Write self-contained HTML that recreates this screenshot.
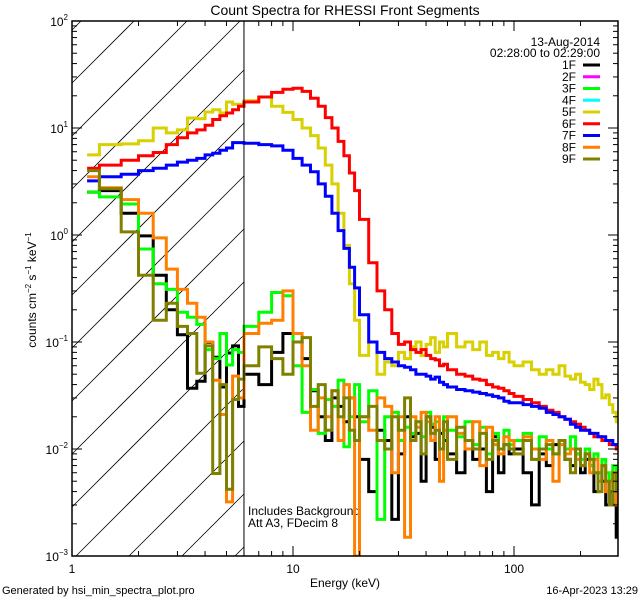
<!DOCTYPE html>
<html><head><meta charset="utf-8"><style>
html,body{margin:0;padding:0;background:#fff;width:640px;height:600px;overflow:hidden;}
svg{display:block;overflow:hidden;font-family:"Liberation Sans",sans-serif;}
</style></head><body>
<svg id="chart" width="640" height="600" viewBox="0 0 640 600" xmlns="http://www.w3.org/2000/svg">
<rect width="640" height="600" fill="#fff"/>
<text x="345" y="15" font-size="14" text-anchor="middle">Count Spectra for RHESSI Front Segments</text>
<text x="345" y="587" font-size="12" text-anchor="middle">Energy (keV)</text>
<text transform="translate(36,290) rotate(-90)" font-size="12" text-anchor="middle">counts cm<tspan dy="-5" font-size="8">−2</tspan><tspan dy="5"> s</tspan><tspan dy="-5" font-size="8">−1</tspan><tspan dy="5"> keV</tspan><tspan dy="-5" font-size="8">−1</tspan></text>
<text x="2" y="594" font-size="11">Generated by hsi_min_spectra_plot.pro</text>
<text x="638" y="594" font-size="11" text-anchor="end">16-Apr-2023 13:29</text>
<text x="248" y="515" font-size="12">Includes Background</text>
<text x="248" y="527" font-size="12">Att A3, FDecim 8</text>
<text x="600" y="46" font-size="12" text-anchor="end">13-Aug-2014</text>
<text x="600" y="57" font-size="12" text-anchor="end">02:28:00 to 02:29:00</text>
<g id="hatch"></g>
<g id="series"></g>
<g id="axes"></g>
<g id="legend"></g>
</svg>
<script>
const edges = [1.17,1.33,1.67,2,2.33,2.67,3,3.33,3.67,4,4.33,4.67,5,5.33,5.67,6,
7,8,9,10,11,12,13,14,15,16,17,18,19,20,22,24,26,28,30,32,34,36,38,40,42,44,46,48,50,
55,60,65,70,75,80,85,90,95,100,110,120,130,140,150,160,170,180,190,200,210,220,230,240,250,260,270,280,290,300];
const seriesNames = ["1F","3F","5F","6F","7F","8F","9F"];
const legendNames = ["1F","2F","3F","4F","5F","6F","7F","8F","9F"];
const legendColors = ["#000000","#ff00ff","#00ff00","#00ffff","#d8d000","#ff0000","#0000ff","#ff8000","#808000"];
const s1F = [2.52,2.6,1.6,0.98,0.42,0.2,0.117,0.037,0.043,0.099,0.072,0.038,0.079,0.092,0.025,
0.05,0.04,0.08,0.12,0.1,0.07,0.035,0.02,0.012,0.03,0.025,0.018,0.03,0.02,
0.008,0.004,0.015,0.012,0.0022,0.009,0.02,0.013,0.014,0.005,0.02,0.016,0.008,0.014,0.012,
0.009,0.006,0.012,0.008,0.01,0.004,0.013,0.006,0.011,0.009,
0.01,0.006,0.003,0.009,0.007,0.011,0.012,0.008,0.007,0.009,0.006,0.008,0.007,0.004,0.006,0.005,0.003,0.004,0.003,0.0015];
const s3F = [2.52,2.27,1.95,0.74,0.35,0.31,0.19,0.17,0.146,0.085,0.07,0.12,0.061,0.085,0.08,
0.14,0.19,0.29,0.27,0.06,0.022,0.036,0.014,0.029,0.025,0.044,0.0105,0.02,0.04,
0.018,0.035,0.0022,0.02,0.022,0.012,0.016,0.014,0.018,0.013,0.022,0.017,0.018,0.01,0.02,
0.015,0.013,0.018,0.011,0.016,0.009,0.014,0.01,0.015,0.011,
0.012,0.014,0.008,0.013,0.01,0.009,0.011,0.01,0.013,0.009,0.008,0.01,0.007,0.009,0.006,0.008,0.006,0.005,0.007,0.006];
const s5F = [5.6,7.0,7.1,7.6,10,9.0,9.6,12.4,12.2,14.1,14.8,13.8,17.5,16.7,16.7,
18,19.5,16,14,12,10,8.5,6.5,4.5,3.0,1.6,0.8,0.35,0.16,
0.075,0.1,0.05,0.065,0.06,0.08,0.07,0.09,0.1,0.075,0.095,0.11,0.08,0.1,0.09,
0.12,0.09,0.1,0.085,0.1,0.075,0.08,0.07,0.08,0.065,
0.06,0.065,0.055,0.05,0.055,0.05,0.06,0.048,0.045,0.05,0.042,0.04,0.036,0.045,0.04,0.03,0.032,0.026,0.022,0.018];
const s6F = [4.2,4.5,5.0,5.5,5.9,7.0,8.1,9.0,9.6,10.6,12,13,13.8,14.8,16,
17.5,19.5,21.5,23,23.5,22,19,16,12.5,10,7.5,5.5,3.8,2.6,
1.4,0.55,0.3,0.2,0.12,0.095,0.1,0.085,0.08,0.085,0.075,0.07,0.068,0.06,0.062,
0.055,0.05,0.048,0.045,0.044,0.04,0.038,0.037,0.035,0.033,
0.031,0.029,0.027,0.025,0.023,0.022,0.02,0.019,0.018,0.017,0.016,0.015,0.014,0.013,0.013,0.012,0.012,0.011,0.011,0.01];
const s7F = [3.2,3.5,3.7,4.0,4.2,4.5,4.8,5.0,5.2,5.6,5.8,6.2,6.5,7.3,7.3,
7.2,7.0,6.8,6.2,5.2,4.5,3.9,3.0,2.3,1.6,1.1,0.75,0.5,0.32,
0.18,0.1,0.08,0.07,0.065,0.06,0.058,0.055,0.05,0.05,0.048,0.045,0.047,0.042,0.04,
0.038,0.036,0.035,0.034,0.033,0.032,0.031,0.03,0.028,0.027,
0.027,0.026,0.025,0.024,0.022,0.021,0.02,0.019,0.017,0.016,0.015,0.015,0.014,0.014,0.013,0.013,0.012,0.012,0.011,0.011];
const s8F = [3.5,2.76,2.14,1.6,0.94,0.48,0.31,0.23,0.17,0.1,0.044,0.021,0.0032,0.048,0.03,
0.12,0.15,0.16,0.3,0.12,0.06,0.015,0.03,0.02,0.035,0.012,0.04,0.03,0.001,
0.02,0.015,0.03,0.025,0.006,0.02,0.0015,0.02,0.016,0.022,0.018,0.012,0.02,0.005,0.015,
0.02,0.014,0.01,0.018,0.007,0.016,0.011,0.009,0.013,0.012,
0.009,0.013,0.01,0.008,0.012,0.005,0.011,0.009,0.01,0.008,0.007,0.009,0.006,0.008,0.005,0.007,0.004,0.005,0.006,0.003];
const s9F = [4,2.7,1.07,0.42,0.16,0.23,0.14,0.12,0.051,0.092,0.0059,0.04,0.0042,0.029,0.045,
0.06,0.09,0.07,0.05,0.1,0.11,0.025,0.04,0.015,0.035,0.02,0.03,0.015,0.012,
0.02,0.025,0.012,0.01,0.02,0.015,0.03,0.012,0.018,0.009,0.02,0.014,0.015,0.01,0.018,
0.008,0.016,0.012,0.01,0.014,0.008,0.012,0.01,0.011,0.01,
0.009,0.012,0.008,0.01,0.011,0.009,0.012,0.008,0.006,0.01,0.007,0.009,0.008,0.006,0.004,0.007,0.005,0.003,0.006,0.004];
const yTickExp = [-3,-2,-1,0,1,2];
const xTickLabels = ["1","10","100"];
const xTickVals = [1,10,100];

const NS = "http://www.w3.org/2000/svg";
const L=72,R=618,T=21,B=556;
const xMin=1, xMax=Math.pow(10,(R-L)/221);
function xs(e){return L+(Math.log10(e)-Math.log10(xMin))/(Math.log10(xMax)-Math.log10(xMin))*(R-L);}
function ys(v){return T+(2-Math.log10(v))/5*(B-T);}
function mk(tag,attrs,parent){const el=document.createElementNS(NS,tag);for(const k in attrs)el.setAttribute(k,attrs[k]);parent.appendChild(el);return el;}
const svg=document.getElementById('chart');

const defs=mk('defs',{},svg);
const cp=mk('clipPath',{id:'plotclip'},defs);
mk('rect',{x:L,y:T,width:R-L,height:B-T},cp);

const hatch=document.getElementById('hatch');
const HX=xs(6);
for(let k=-12;k<20;k++){
  const c=83+53*k+L; // line: y = c - x
  let xa=Math.max(L,c-B), xb=Math.min(HX,c-T);
  if(xb<=xa)continue;
  const ln=mk('line',{x1:xa,y1:c-xa,x2:xb,y2:c-xb,stroke:'#000','stroke-width':0.8},hatch);
  
  
}
const vl=mk('line',{x1:HX,y1:T,x2:HX,y2:B,stroke:'#000','stroke-width':1},svg);



const seriesData={"1F":s1F,"3F":s3F,"5F":s5F,"6F":s6F,"7F":s7F,"8F":s8F,"9F":s9F};
const colorOf={};legendNames.forEach((n,i)=>colorOf[n]=legendColors[i]);
const sg=document.getElementById('series');
sg.setAttribute('clip-path','url(#plotclip)');
seriesNames.forEach(n=>{
  const vals=seriesData[n];
  let d='';
  for(let i=0;i<vals.length;i++){
    const v=Math.max(vals[i],5e-4);
    const x0=xs(edges[i]),x1=xs(edges[i+1]),y=ys(v);
    d+=(i===0?'M':'L')+x0.toFixed(1)+','+y.toFixed(1)+'L'+x1.toFixed(1)+','+y.toFixed(1);
  }
  const p=mk('path',{d:d,fill:'none',stroke:colorOf[n],'stroke-width':3,'stroke-linejoin':'miter'},sg);
  
  
});

const ax=document.getElementById('axes');
const frame=mk('rect',{x:L,y:T,width:R-L,height:B-T,fill:'none',stroke:'#000','stroke-width':1.5},ax);


for(let dec=0;dec<3;dec++){
  for(let m=1;m<10;m++){
    const e=Math.pow(10,dec)*m; if(e>xMax)break;
    const x=xs(e), len=m===1?10:5;
    mk('line',{x1:x,y1:B,x2:x,y2:B-len,stroke:'#000','stroke-width':1},ax);
    mk('line',{x1:x,y1:T,x2:x,y2:T+len,stroke:'#000','stroke-width':1},ax);
  }
}
xTickVals.forEach((v,i)=>{
  const t=mk('text',{x:xs(v),y:B+17,'font-size':12,'text-anchor':'middle'},ax);
  t.textContent=xTickLabels[i];
  
  
});
yTickExp.forEach(ex=>{
  for(let m=1;m<10;m++){
    if(ex===2&&m>1)break;
    const v=m*Math.pow(10,ex),y=ys(v),len=m===1?10:5;
    mk('line',{x1:L,y1:y,x2:L+len,y2:y,stroke:'#000','stroke-width':1},ax);
    mk('line',{x1:R,y1:y,x2:R-len,y2:y,stroke:'#000','stroke-width':1},ax);
  }
  const t=mk('text',{x:L-4,y:ys(Math.pow(10,ex))+5,'font-size':12,'text-anchor':'end'},ax);
  const a=document.createElementNS(NS,'tspan');a.textContent='10';t.appendChild(a);
  const b=document.createElementNS(NS,'tspan');b.setAttribute('dy','-6');b.setAttribute('font-size','8');b.textContent=ex<0?'−'+(-ex):String(ex);t.appendChild(b);
  
  
});

const lg=document.getElementById('legend');
legendNames.forEach((n,i)=>{
  const y=65+i*11.75;
  const t=mk('text',{x:576,y:y+4,'font-size':12,'text-anchor':'end'},lg);
  t.textContent=n;
  
  
  const l=mk('line',{x1:583,y1:y,x2:600,y2:y,stroke:legendColors[i],'stroke-width':3},lg);
  
  
});
</script>
</body></html>
